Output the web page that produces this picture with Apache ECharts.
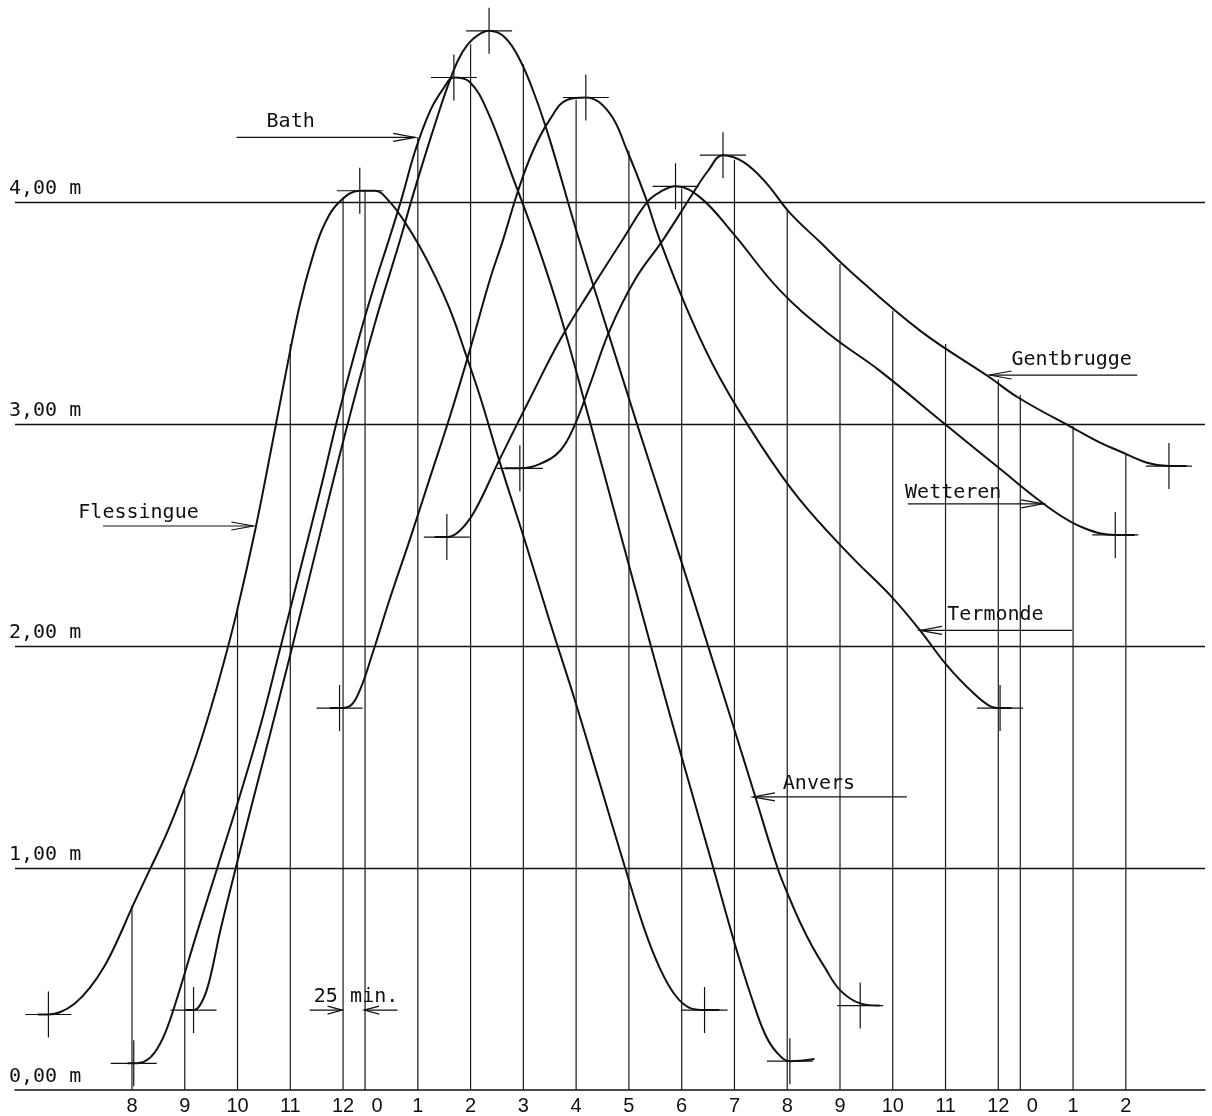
<!DOCTYPE html>
<html><head><meta charset="utf-8">
<script src="https://cdn.jsdelivr.net/npm/echarts@6/dist/echarts.min.js"></script>
<style>html,body{margin:0;padding:0;background:#fff}#c{width:1212px;height:1116px}</style>
</head><body><div id="c"></div>
<script>
// x: minutes after 8 h (with the 25 min gap between "12" and "0"); y: water level in metres
const hourT = [0,60,120,180,240,265,325,385,445,505,565,625,685,745,805,865,925,985,1010,1070,1130];
const hourLabels = ['8','9','10','11','12','0','1','2','3','4','5','6','7','8','9','10','11','12','0','1','2'];
const hourLineTop = [0.83,1.35,2.18,3.36,4.02,4.05,4.29,4.71,4.62,4.46,4.23,4.06,4.19,3.96,3.72,3.51,3.36,3.20,3.13,2.99,2.86];
const levelTicks = [0,1,2,3,4];
const refLevels = [1,2,3,4];

const flessingue = [[-107,0.34],[-95,0.34],[-82,0.35],[-65,0.39],[-48,0.46],[-31,0.56],[-17,0.67],[1,0.83],[20,0.99],[40,1.16],[58,1.34],[74,1.52],[89,1.71],[104,1.92],[119,2.15],[140,2.52],[157,2.86],[174,3.21],[191,3.54],[206,3.76],[219,3.90],[236,4.00],[259,4.05],[276,4.05],[293,4.00],[310,3.91],[327,3.80],[344,3.67],[362,3.51],[379,3.32],[396,3.12],[418,2.83],[447,2.47],[475,2.11],[504,1.75],[532,1.38],[560,1.01],[583,0.72],[600,0.55],[617,0.43],[634,0.37],[651,0.36],[668,0.36]];
const bath = [[-5,0.12],[2,0.12],[15,0.13],[26,0.17],[38,0.26],[51,0.41],[74,0.71],[97,1.00],[123,1.33],[146,1.64],[168,1.98],[191,2.34],[214,2.70],[236,3.06],[259,3.40],[276,3.63],[293,3.84],[307,4.02],[322,4.23],[339,4.41],[354,4.51],[366,4.56],[384,4.54],[404,4.41],[433,4.11],[460,3.82],[487,3.49],[520,3.02],[555,2.51],[590,2.00],[625,1.50],[661,1.00],[686,0.65],[705,0.41],[720,0.25],[733,0.17],[748,0.13],[776,0.14]];
const anvers = [[61,0.36],[70,0.36],[77,0.38],[85,0.45],[92,0.56],[100,0.71],[118,1.00],[134,1.25],[151,1.51],[180,1.96],[208,2.41],[242,2.95],[276,3.45],[305,3.83],[318,4.01],[331,4.18],[347,4.38],[358,4.51],[371,4.64],[382,4.71],[393,4.75],[406,4.77],[424,4.74],[441,4.64],[458,4.48],[475,4.28],[506,3.86],[532,3.53],[575,2.99],[615,2.50],[655,2.00],[686,1.61],[708,1.33],[734,1.00],[748,0.86],[759,0.76],[773,0.65],[788,0.55],[805,0.45],[828,0.39],[850,0.38]];
const termonde = [[225,1.72],[236,1.72],[248,1.73],[259,1.80],[273,1.96],[293,2.21],[316,2.48],[339,2.76],[362,3.04],[384,3.33],[407,3.65],[422,3.83],[439,4.05],[456,4.23],[475,4.37],[495,4.46],[516,4.47],[543,4.40],[563,4.23],[583,4.03],[600,3.83],[634,3.49],[668,3.21],[714,2.91],[759,2.66],[816,2.41],[864,2.22],[896,2.07],[927,1.91],[956,1.79],[975,1.73],[987,1.72],[1000,1.72]];
const wetteren = [[344,2.49],[358,2.49],[373,2.52],[390,2.61],[418,2.84],[452,3.11],[487,3.38],[521,3.60],[558,3.83],[586,4.00],[603,4.05],[618,4.07],[646,4.02],[683,3.86],[737,3.60],[794,3.40],[850,3.24],[927,2.99],[983,2.81],[1047,2.61],[1083,2.53],[1118,2.50],[1140,2.50]];
const gentbrugge = [[424,2.80],[441,2.80],[464,2.82],[487,2.88],[504,3.00],[521,3.18],[543,3.42],[572,3.65],[604,3.83],[638,4.04],[655,4.14],[672,4.21],[695,4.18],[720,4.09],[748,3.95],[782,3.82],[816,3.69],[896,3.42],[975,3.21],[1007,3.12],[1066,2.99],[1115,2.89],[1179,2.81],[1199,2.81]];

// low / high / low water marks (crosses)
const crossMarks = [[-95,0.34],[259,4.05],[651,0.36],[2,0.12],[366,4.56],[748,0.13],[70,0.36],[406,4.77],[828,0.38],[236,1.72],[516,4.47],[987,1.72],[358,2.49],[618,4.07],[1118,2.50],[441,2.80],[672,4.21],[1179,2.81]];

// annotations
const annoText = ['Bath','Flessingue','Gentbrugge','Wetteren','Termonde','Anvers','25','min.'];
const annoTextAt = [[153,4.36],[-61,2.60],[1000,3.29],[879,2.69],[927,2.14],[740,1.38],[234,0.42],[248,0.42]];
const annoArrows = [[119,4.29,322,4.29],[-33,2.54,138,2.54],[1143,3.22,975,3.22],[882,2.64,1036,2.64],[1069,2.07,896,2.07],[881,1.32,706,1.32],[202,0.36,239,0.36],[302,0.36,264,0.36]];

const INK = '#111';
const MONO = '20px "DejaVu Sans Mono", monospace';

const curveSeries = (name, data) => ({
  name, type: 'line', data, smooth: 0.4, showSymbol: false, silent: true,
  lineStyle: { color: INK, width: 2 }, z: 5
});

const chart = echarts.init(document.getElementById('c'), null, { renderer: 'canvas' });
chart.setOption({
  animation: false,
  backgroundColor: '#fff',
  grid: { left: 15, right: 7, top: 2, bottom: 26 },
  xAxis: {
    type: 'value', min: -133, max: 1220,
    axisLine: { show: true, lineStyle: { color: INK, width: 1.5 } },
    axisTick: { show: false },
    splitLine: { show: false },
    axisLabel: {
      customValues: hourT,
      margin: 6,
      color: INK,
      fontFamily: '"Liberation Sans", Arial, sans-serif',
      fontSize: 20,
      formatter: (v) => {
        const lab = hourLabels[hourT.indexOf(v)];
        return lab === '0' ? '{z|0}' : lab;
      },
      rich: { z: { padding: [0, 0, 0, 24], fontSize: 20, color: INK, fontFamily: '"Liberation Sans", Arial, sans-serif' } }
    }
  },
  yAxis: {
    type: 'value', min: 0, max: 4.9,
    axisLine: { show: false }, axisTick: { show: false }, splitLine: { show: false },
    axisLabel: {
      customValues: levelTicks,
      align: 'left', verticalAlign: 'bottom', margin: 6, padding: [0, 0, 3, 0],
      color: INK, fontFamily: '"DejaVu Sans Mono", monospace', fontSize: 20,
      formatter: (v) => v.toFixed(2).replace('.', ',') + ' m'
    }
  },
  series: [
    {
      type: 'custom', name: 'hours', silent: true, z: 2,
      data: hourT.map((t, i) => [t, hourLineTop[i]]),
      renderItem: (p, api) => {
        const a = api.coord([api.value(0), 0]);
        const b = api.coord([api.value(0), api.value(1)]);
        return { type: 'line', shape: { x1: a[0], y1: a[1], x2: b[0], y2: b[1] }, style: { stroke: '#1a1a1a', lineWidth: 1.2 } };
      },
      markLine: {
        silent: true, symbol: ['none', 'none'], label: { show: false },
        lineStyle: { color: INK, width: 1.3, type: 'solid' },
        data: refLevels.map(v => ({ yAxis: v }))
      }
    },
    curveSeries('Flessingue', flessingue),
    curveSeries('Bath', bath),
    curveSeries('Anvers', anvers),
    curveSeries('Termonde', termonde),
    curveSeries('Wetteren', wetteren),
    curveSeries('Gentbrugge', gentbrugge),
    {
      type: 'custom', name: 'marks', silent: true, z: 6,
      data: crossMarks,
      renderItem: (p, api) => {
        const c = api.coord([api.value(0), api.value(1)]);
        const s = 23;
        return { type: 'group', children: [
          { type: 'line', shape: { x1: c[0] - s, y1: c[1], x2: c[0] + s, y2: c[1] }, style: { stroke: INK, lineWidth: 1.2 } },
          { type: 'line', shape: { x1: c[0], y1: c[1] - s, x2: c[0], y2: c[1] + s }, style: { stroke: INK, lineWidth: 1.2 } }
        ] };
      }
    },
    {
      type: 'custom', name: 'arrows', silent: true, z: 6,
      data: annoArrows,
      renderItem: (p, api) => {
        const a = api.coord([api.value(0), api.value(1)]);
        const b = api.coord([api.value(2), api.value(3)]);
        const dx = b[0] - a[0], dy = b[1] - a[1];
        const L = Math.hypot(dx, dy) || 1, ux = dx / L, uy = dy / L;
        const hl = Math.min(22, L * 0.45), hw = 4;
        const p1 = [b[0] - ux * hl - uy * hw, b[1] - uy * hl + ux * hw];
        const p2 = [b[0] - ux * hl + uy * hw, b[1] - uy * hl - ux * hw];
        return { type: 'group', children: [
          { type: 'line', shape: { x1: a[0], y1: a[1], x2: b[0], y2: b[1] }, style: { stroke: INK, lineWidth: 1.2 } },
          { type: 'polyline', shape: { points: [p1, b, p2] }, style: { stroke: INK, lineWidth: 1.2, fill: null } }
        ] };
      }
    },
    {
      type: 'custom', name: 'texts', silent: true, z: 7,
      data: annoTextAt,
      renderItem: (p, api) => {
        const c = api.coord([api.value(0), api.value(1)]);
        const txt = annoText[p.dataIndex];
        return { type: 'text', x: c[0], y: c[1], style: {
          text: txt, fill: INK, font: MONO,
          align: txt === '25' ? 'right' : 'left', verticalAlign: 'middle'
        } };
      }
    }
  ]
});
</script></body></html>
